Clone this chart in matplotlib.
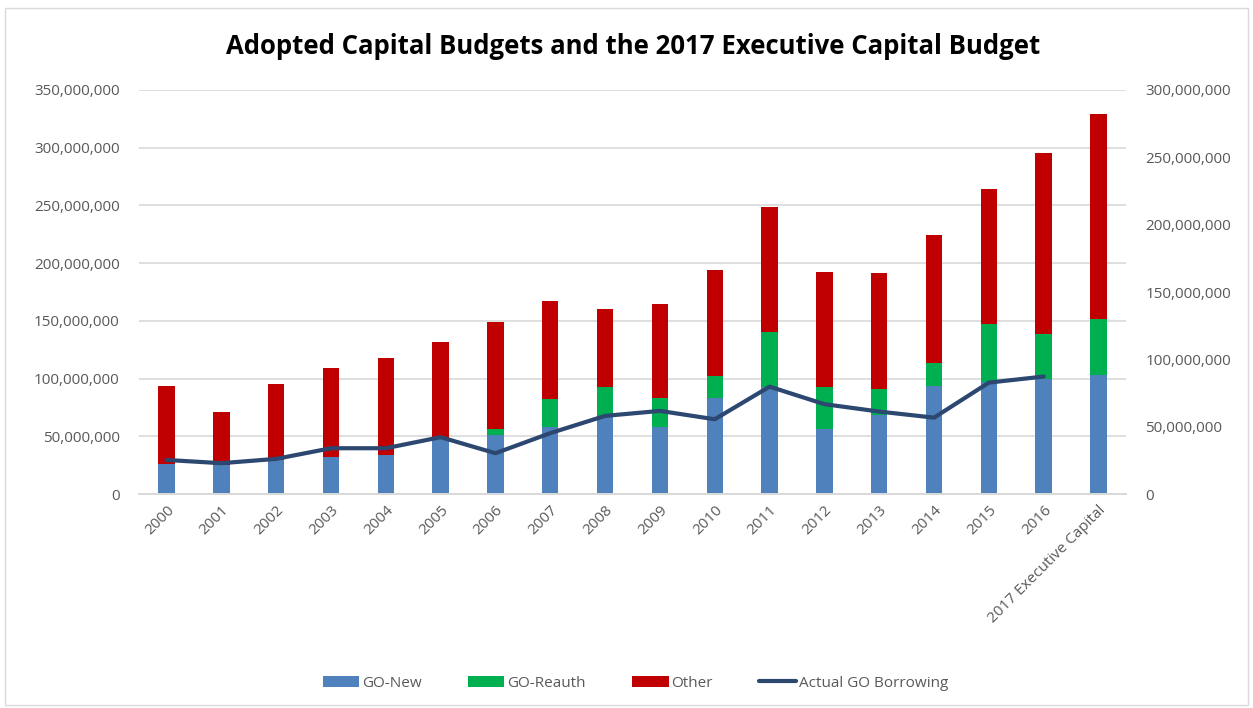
import matplotlib
matplotlib.use("Agg")
import matplotlib.pyplot as plt
from matplotlib.ticker import FuncFormatter
from matplotlib.patches import Rectangle
import numpy as np

categories = ["2000", "2001", "2002", "2003", "2004", "2005", "2006", "2007", "2008",
              "2009", "2010", "2011", "2012", "2013", "2014", "2015", "2016",
              "2017 Executive Capital"]
go_new = [26.0, 25.0, 29.7, 32.6, 34.3, 48.5, 51.0, 58.3, 67.8,
          58.3, 83.6, 93.2, 56.8, 68.7, 93.8, 97.5, 99.5, 103.6]
go_reauth = [0.0, 0.0, 0.0, 0.0, 0.0, 0.0, 5.8, 24.2, 24.8,
             25.3, 18.8, 47.3, 35.8, 22.2, 19.6, 50.2, 39.5, 48.2]
other = [67.8, 46.0, 65.5, 76.7, 83.4, 83.4, 92.1, 85.1, 67.6,
         80.9, 92.1, 108.0, 100.1, 100.7, 110.8, 116.4, 156.2, 177.2]
actual_go = [25.4, 23.0, 26.2, 34.1, 34.1, 42.3, 30.4, 45.3, 58.1,
             61.8, 55.6, 79.8, 66.8, 61.3, 56.8, 82.8, 87.3]
left_ticks = [0, 50, 100, 150, 200, 250, 300, 350]
right_ticks = [0, 50, 100, 150, 200, 250, 300]

FONT = ["Open Sans", "DejaVu Sans"]
GRAY = "#595959"

scale = 1e6
go_new_v = np.array(go_new) * scale
go_reauth_v = np.array(go_reauth) * scale
other_v = np.array(other) * scale
actual_v = np.array(actual_go) * scale

fig = plt.figure(figsize=(12.53, 7.08), dpi=100)
fig.patches.append(Rectangle((0.004, 0.004), 0.992, 0.985, transform=fig.transFigure,
                             fill=False, edgecolor="#d9d9d9", linewidth=1.0))
ax = fig.add_axes([0.111, 0.302, 0.7876, 0.571])
ax2 = ax.twinx()

x = np.arange(len(categories))
w = 0.3
ax.bar(x, go_new_v, w, color="#4F81BD", label="GO-New", zorder=2)
ax.bar(x, go_reauth_v, w, bottom=go_new_v, color="#00B050", label="GO-Reauth", zorder=2)
ax.bar(x, other_v, w, bottom=go_new_v + go_reauth_v, color="#C00000", label="Other", zorder=2)
ax2.plot(x[:len(actual_v)], actual_v, color="#2C4770", linewidth=3.0,
         solid_capstyle="round", label="Actual GO Borrowing", zorder=3)

ax.set_xlim(-0.5, len(categories) - 0.5)
ax.set_ylim(0, 350e6)
ax2.set_ylim(0, 300e6)
ax.set_yticks([v * scale for v in left_ticks])
ax2.set_yticks([v * scale for v in right_ticks])
fmt = FuncFormatter(lambda v, p: f"{int(round(v)):,}")
ax.yaxis.set_major_formatter(fmt)
ax2.yaxis.set_major_formatter(fmt)

ax.grid(axis="y", color="#d9d9d9", linewidth=1.2, zorder=0)
ax.set_axisbelow(True)
for a in (ax, ax2):
    for s in ("top", "left", "right"):
        a.spines[s].set_visible(False)
    a.spines["bottom"].set_color("#d9d9d9")
    a.spines["bottom"].set_linewidth(1.2)
    a.tick_params(axis="both", length=0, colors=GRAY, labelsize=11)
    for lab in a.get_yticklabels():
        lab.set_fontfamily(FONT)

ax.tick_params(axis="y", pad=14)
ax2.tick_params(axis="y", pad=14)
ax.set_xticks(x)
ax.set_xticklabels(categories, rotation=45, ha="right", rotation_mode="anchor",
                   fontfamily=FONT, fontsize=11, color=GRAY)
ax.tick_params(axis="x", pad=6)

fig.text(0.505, 0.935, "Adopted Capital Budgets and the 2017 Executive Capital Budget",
         ha="center", va="center", fontsize=18.5, fontweight="bold", family=FONT, color="black")

h1, l1 = ax.get_legend_handles_labels()
h2, l2 = ax2.get_legend_handles_labels()
leg = fig.legend(h1 + h2, l1 + l2, loc="center", bbox_to_anchor=(0.507, 0.035), ncol=4,
                 frameon=False, prop={"family": FONT, "size": 11}, handlelength=2.4,
                 handleheight=0.8, columnspacing=3.0, handletextpad=0.2)
for t in leg.get_texts():
    t.set_color(GRAY)

fig.savefig("out.png", dpi=100)
